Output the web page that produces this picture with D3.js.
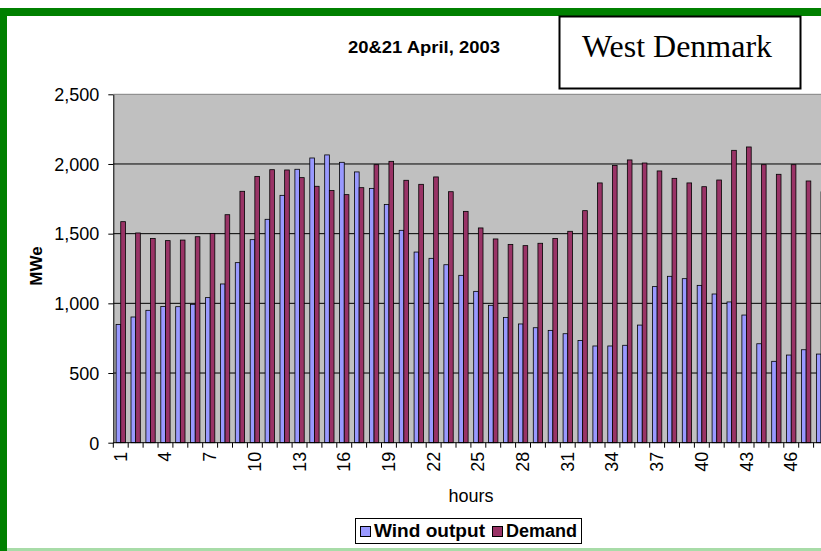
<!DOCTYPE html>
<html>
<head>
<meta charset="utf-8">
<script src="https://cdn.jsdelivr.net/npm/d3@7"></script>
<style>
  body { margin: 0; background: #fff; }
  text { font-family: "Liberation Sans", Arial, sans-serif; }
</style>
</head>
<body>
<script>
// hourly values (MWe)
var hours = d3.range(1, 49);
var wind = [849, 902, 950, 978, 976, 993, 1041, 1139, 1292, 1457,
            1603, 1775, 1962, 2043, 2065, 2012, 1943, 1825, 1710, 1524,
            1368, 1323, 1277, 1201, 1086, 986, 899, 852, 825, 806,
            782, 734, 694, 694, 699, 844, 1120, 1194, 1177, 1129,
            1067, 1010, 916, 710, 584, 629, 667, 636];
var demand = [1586, 1505, 1466, 1450, 1454, 1478, 1502, 1636, 1804, 1911,
              1959, 1957, 1902, 1840, 1809, 1780, 1830, 1995, 2019, 1883,
              1854, 1907, 1801, 1660, 1541, 1462, 1423, 1414, 1431, 1466,
              1517, 1665, 1864, 1990, 2029, 2007, 1950, 1897, 1864, 1837,
              1885, 2098, 2122, 1995, 1926, 1995, 1878, 1800];
var seriesNames = ['Wind output', 'Demand'];
var seriesColors = ['#9999ff', '#993366'];
var yTicks = [0, 500, 1000, 1500, 2000, 2500];
var xLabels = d3.range(1, 49, 3);

var svg = d3.select('body').append('svg')
            .attr('width', 821)
            .attr('height', 551);

// green frame
svg.append('rect').attr('x', 0).attr('y', 8).attr('width', 821).attr('height', 8).style('fill', '#008000');
svg.append('rect').attr('x', 0).attr('y', 8).attr('width', 7).attr('height', 543).style('fill', '#008000');
svg.append('rect').attr('x', 7).attr('y', 548).attr('width', 814).attr('height', 3).style('fill', '#a8dca8');

var left = 113.3, step = 14.9;
var x = d3.scaleBand().domain(hours).range([left, left + step * hours.length]);
var xs = d3.scaleBand().domain([0, 1]).range([0, x.bandwidth()]).paddingOuter(0.6);
var y = d3.scaleLinear().domain([0, 2500]).range([442.7, 94.3]);

// plot area
svg.append('rect')
   .attr('x', left).attr('y', y(2500))
   .attr('width', step * hours.length).attr('height', y(0) - y(2500))
   .style('fill', '#c0c0c0');
svg.append('line')
   .attr('x1', left).attr('x2', 821).attr('y1', y(2500)).attr('y2', y(2500))
   .style('stroke', '#808080').style('stroke-width', 1);

svg.selectAll('.grid').data(yTicks.slice(1, -1)).enter().append('line')
   .attr('x1', left).attr('x2', 821)
   .attr('y1', function(d) { return y(d); }).attr('y2', function(d) { return y(d); })
   .style('stroke', '#000').style('stroke-width', 1);

// bars
[wind, demand].forEach(function(vals, s) {
  svg.append('g').selectAll('rect').data(vals).enter().append('rect')
     .attr('x', function(d, i) { return x(hours[i]) + xs(s); })
     .attr('y', function(d) { return y(d); })
     .attr('width', xs.bandwidth())
     .attr('height', function(d) { return y(0) - y(d); })
     .style('fill', seriesColors[s])
     .style('stroke', '#000')
     .style('stroke-width', 0.8);
});

// y axis
var yAxis = svg.append('g')
   .attr('transform', 'translate(' + left + ',0)')
   .call(d3.axisLeft(y).tickValues(yTicks).tickSize(5).tickSizeOuter(0).tickFormat(d3.format(',')));
yAxis.select('.domain').style('stroke', '#000');
yAxis.selectAll('text').style('font-size', '18px').style('fill', '#000')
     .attr('x', -14).attr('dy', '0.35em');

// x axis: ticks between categories, labels every third hour
var xAxis = svg.append('g').attr('transform', 'translate(0,' + y(0) + ')');
xAxis.append('line').attr('x1', left).attr('x2', 821).style('stroke', '#000');
xAxis.selectAll('.tk').data(d3.range(0, hours.length + 1)).enter().append('line')
     .attr('x1', function(d) { return left + d * step; })
     .attr('x2', function(d) { return left + d * step; })
     .attr('y1', 0).attr('y2', 5)
     .style('stroke', '#000');
xAxis.selectAll('.lb').data(xLabels).enter().append('text')
     .attr('transform', function(d) {
       return 'translate(' + (x(d) + x.bandwidth() / 2 + 6) + ',9) rotate(-90)';
     })
     .attr('text-anchor', 'end')
     .style('font-size', '18px')
     .text(function(d) { return d; });

svg.append('text').attr('x', 471).attr('y', 502).attr('text-anchor', 'middle')
   .style('font-size', '18px').text('hours');

svg.append('text')
   .attr('transform', 'translate(42,266) rotate(-90)')
   .attr('text-anchor', 'middle')
   .style('font-size', '17px').style('font-weight', 'bold')
   .text('MWe');

// titles
svg.append('text').attr('x', 348).attr('y', 53)
   .attr('textLength', 152).attr('lengthAdjust', 'spacingAndGlyphs')
   .style('font-size', '17px').style('font-weight', 'bold')
   .text('20&21 April, 2003');

svg.append('rect').attr('x', 559.5).attr('y', 16.5).attr('width', 241).attr('height', 72)
   .style('fill', '#fff').style('stroke', '#000').style('stroke-width', 2);
svg.append('text').attr('x', 582).attr('y', 57)
   .attr('textLength', 190).attr('lengthAdjust', 'spacingAndGlyphs')
   .style('font-family', '"Liberation Serif", "Times New Roman", serif')
   .style('font-size', '32px')
   .text('West Denmark');

// legend
var lg = svg.append('g');
lg.append('rect').attr('x', 355.5).attr('y', 518.5).attr('width', 226).attr('height', 25)
  .style('fill', '#fff').style('stroke', '#000').style('stroke-width', 1);
var lx = [360, 492];
var lw = [111, 71];
seriesNames.forEach(function(name, s) {
  lg.append('rect').attr('x', lx[s] + 0.5).attr('y', 526.5).attr('width', 10).attr('height', 10)
    .style('fill', seriesColors[s]).style('stroke', '#000');
  lg.append('text').attr('x', lx[s] + 14).attr('y', 537)
    .attr('textLength', lw[s]).attr('lengthAdjust', 'spacingAndGlyphs')
    .style('font-size', '18px').style('font-weight', 'bold')
    .text(name);
});
</script>
</body>
</html>
